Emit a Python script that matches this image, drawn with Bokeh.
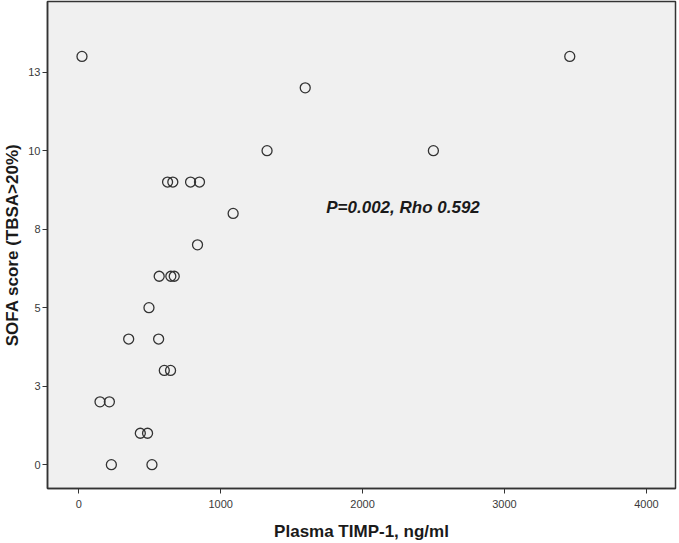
from bokeh.plotting import figure
from bokeh.models import ColumnDataSource, FixedTicker, Label, Range1d
from bokeh.embed import file_html
from bokeh.resources import INLINE

# Data
timp1 = [23, 3460, 1596, 1327, 2499, 626, 663, 788, 851, 1088, 837,
         567, 649, 673, 495, 352, 563, 603, 647, 150, 216, 434, 485, 230, 516]
sofa = [13, 13, 12, 10, 10, 9, 9, 9, 9, 8, 7,
        6, 6, 6, 5, 4, 4, 3, 3, 2, 2, 1, 1, 0, 0]

xticks = [0, 1000, 2000, 3000, 4000]
yticks = [0, 2.5, 5, 7.5, 10, 12.5]
ytick_labels = ["0", "3", "5", "8", "10", "13"]

FONT = "Liberation Sans"

p = figure(width=679, height=543, output_backend="svg", toolbar_location=None,
           x_range=Range1d(-220, 4205), y_range=Range1d(-0.76, 14.75))
p.min_border_left = 46
p.min_border_right = 4
p.min_border_top = 1
p.min_border_bottom = 52

p.background_fill_color = "#f0f0f0"
p.border_fill_color = "white"
p.outline_line_color = "#333333"
p.outline_line_width = 1.5
p.xgrid.visible = False
p.ygrid.visible = False

src = ColumnDataSource(data=dict(x=timp1, y=sofa))
p.scatter("x", "y", source=src, marker="circle", size=10,
          fill_color=None, line_color="#333333", line_width=1.3)

p.xaxis.ticker = FixedTicker(ticks=xticks)
p.yaxis.ticker = FixedTicker(ticks=yticks)
p.yaxis.major_label_overrides = {t: l for t, l in zip(yticks, ytick_labels)}

for ax in (p.xaxis[0], p.yaxis[0]):
    ax.axis_line_color = "#333333"
    ax.axis_line_width = 1.5
    ax.major_tick_line_color = "#333333"
    ax.major_tick_in = 0
    ax.major_tick_out = 5
    ax.minor_tick_line_color = None
    ax.major_label_text_font = FONT
    ax.major_label_text_font_size = "11px"
    ax.major_label_text_color = "#3a3a3a"
    ax.axis_label_text_font = FONT
    ax.axis_label_text_font_style = "bold"
    ax.axis_label_text_font_size = "17px"
    ax.axis_label_text_color = "#1a1a1a"

p.xaxis.axis_label = "Plasma TIMP-1, ng/ml"
p.yaxis.axis_label = "SOFA score (TBSA>20%)"
p.xaxis.major_label_standoff = 6
p.xaxis.axis_label_standoff = 11
p.yaxis.major_label_standoff = 2
p.yaxis.axis_label_standoff = 3

p.add_layout(Label(x=1744, y=8.2, text="P=0.002, Rho 0.592",
                   text_font=FONT, text_font_style="bold italic",
                   text_font_size="17px", text_color="#1a1a1a",
                   text_baseline="alphabetic"))

open("out.html", "w").write(file_html(p, INLINE))
